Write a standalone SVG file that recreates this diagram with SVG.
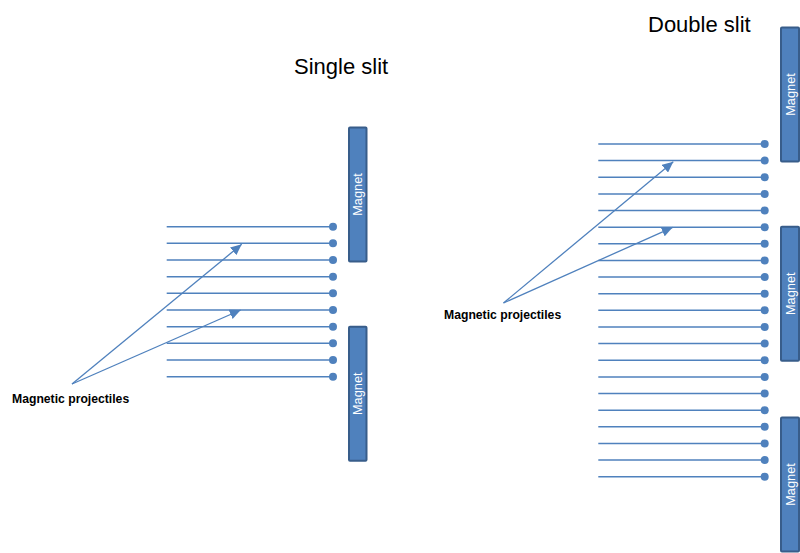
<svg xmlns="http://www.w3.org/2000/svg" xmlns:xlink="http://www.w3.org/1999/xlink" width="800" height="553" viewBox="0 0 800 553">
<style>
.title{font-family:"Liberation Sans",Arial,sans-serif;font-size:22px;fill:#000}
.lbl{font-family:"Liberation Sans",Arial,sans-serif;font-size:12.2px;font-weight:bold;fill:#000}
.mag{fill:#4F81BD;stroke:#385D8A;stroke-width:2}
.magt{font-family:"Liberation Sans",Arial,sans-serif;font-size:12.8px;fill:#fff;text-anchor:middle}
.traj{stroke:#4F81BD;stroke-width:1.5;fill:none}
.dot{fill:#4F81BD}
.arr{stroke:#4F81BD;stroke-width:1.3;fill:none;marker-end:url(#ah)}
</style>
<defs>
<marker id="ah" markerUnits="userSpaceOnUse" markerWidth="12" markerHeight="10" refX="11" refY="5" orient="auto">
<path d="M0,0 L11,5 L0,10 Z" fill="#4F81BD"/>
</marker>
<g id="ps"><line class="traj" x1="166.7" y1="0" x2="333" y2="0"/><circle class="dot" cx="333" cy="0" r="4"/></g>
<g id="pd"><line class="traj" x1="598.3" y1="0" x2="764.7" y2="0"/><circle class="dot" cx="764.7" cy="0" r="4"/></g>
</defs>
<rect width="800" height="553" fill="#fff"/>
<text class="title" x="294" y="73.5">Single slit</text>
<text class="title" x="648" y="31.5">Double slit</text>

<g id="single-magnet-top"><rect class="mag" x="349" y="127.5" width="17.5" height="134" rx="1"/><text class="magt" transform="translate(362.2,194.5) rotate(-90)">Magnet</text></g>
<g id="single-magnet-bottom"><rect class="mag" x="349" y="326.7" width="17.5" height="134" rx="1"/><text class="magt" transform="translate(362.2,393.7) rotate(-90)">Magnet</text></g>
<g id="double-magnet-top"><rect class="mag" x="781" y="27.5" width="18" height="134" rx="1"/><text class="magt" transform="translate(794.5,94.5) rotate(-90)">Magnet</text></g>
<g id="double-magnet-mid"><rect class="mag" x="781" y="226.7" width="18" height="134" rx="1"/><text class="magt" transform="translate(794.5,293.7) rotate(-90)">Magnet</text></g>
<g id="double-magnet-bottom"><rect class="mag" x="781" y="417.5" width="18" height="134" rx="1"/><text class="magt" transform="translate(794.5,484.5) rotate(-90)">Magnet</text></g>

<g id="single-projectiles">
<use href="#ps" y="226.7"/><use href="#ps" y="243.3"/><use href="#ps" y="260"/><use href="#ps" y="276.7"/><use href="#ps" y="293.3"/>
<use href="#ps" y="310"/><use href="#ps" y="326.7"/><use href="#ps" y="343.3"/><use href="#ps" y="360"/><use href="#ps" y="376.7"/>
</g>
<g id="double-projectiles">
<use href="#pd" y="144"/><use href="#pd" y="160.6"/><use href="#pd" y="177.3"/><use href="#pd" y="193.9"/><use href="#pd" y="210.5"/>
<use href="#pd" y="227.2"/><use href="#pd" y="243.8"/><use href="#pd" y="260.4"/><use href="#pd" y="277.1"/><use href="#pd" y="293.7"/>
<use href="#pd" y="310.3"/><use href="#pd" y="327"/><use href="#pd" y="343.6"/><use href="#pd" y="360.3"/><use href="#pd" y="376.9"/>
<use href="#pd" y="393.5"/><use href="#pd" y="410.2"/><use href="#pd" y="426.8"/><use href="#pd" y="443.4"/><use href="#pd" y="460.1"/>
<use href="#pd" y="476.7"/>
</g>

<g id="label-single"><text class="lbl" x="12" y="403">Magnetic projectiles</text></g>
<g id="label-double"><text class="lbl" x="444" y="319">Magnetic projectiles</text></g>

<g id="connectors">
<line class="arr" x1="72" y1="384" x2="241.7" y2="244.3"/>
<line class="arr" x1="72" y1="384" x2="240.7" y2="310"/>
<line class="arr" x1="503.5" y1="303" x2="673.3" y2="161.7"/>
<line class="arr" x1="503.5" y1="303" x2="672.7" y2="227.3"/>
</g>
</svg>
